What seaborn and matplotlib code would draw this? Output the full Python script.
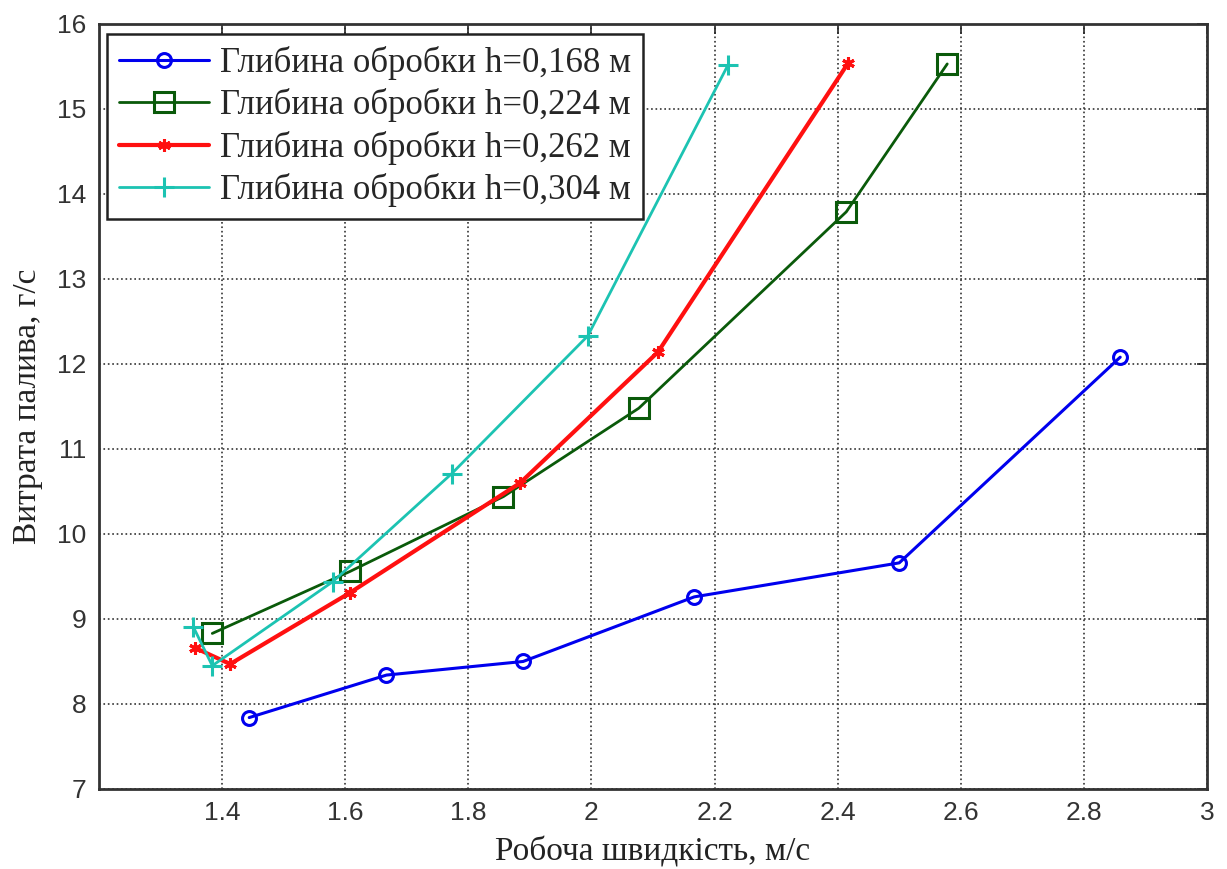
import numpy as np
import pandas as pd
import matplotlib
matplotlib.use('Agg')
import matplotlib.pyplot as plt
import seaborn as sns

# values
labels = ['Глибина обробки h=0,168 м', 'Глибина обробки h=0,224 м',
          'Глибина обробки h=0,262 м', 'Глибина обробки h=0,304 м']

x_168 = [1.444, 1.667, 1.889, 2.167, 2.500, 2.859]
y_168 = [7.84, 8.34, 8.50, 9.26, 9.66, 12.08]

x_224 = [1.384, 1.608, 1.857, 2.077, 2.414, 2.578]
y_224 = [8.83, 9.56, 10.44, 11.48, 13.79, 15.53]

x_262 = [1.356, 1.413, 1.608, 1.884, 2.108, 2.417]
y_262 = [8.66, 8.47, 9.31, 10.60, 12.14, 15.54]

x_304 = [1.353, 1.384, 1.580, 1.773, 1.994, 2.222]
y_304 = [8.91, 8.45, 9.44, 10.71, 12.33, 15.52]

x_ticks = [1.4, 1.6, 1.8, 2.0, 2.2, 2.4, 2.6, 2.8, 3.0]
x_ticklabels = ['1.4', '1.6', '1.8', '2', '2.2', '2.4', '2.6', '2.8', '3']
y_ticks = [7, 8, 9, 10, 11, 12, 13, 14, 15, 16]

sns.set_style('white')

fig = plt.figure(figsize=(12.27, 8.69), dpi=100)
ax = fig.add_axes([0.0807, 0.0921, 0.9030, 0.8803])

series = [
    (x_168, y_168, '#0000ee', 'o', 10, 2.2, 'none'),
    (x_224, y_224, '#0a5a0a', 's', 15, 2.0, 'none'),
    (x_262, y_262, '#ff1010', (6, 2, 0), 9, 3.0, '#ff1010'),
    (x_304, y_304, '#1cc3b2', '+', 15, 2.0, 'none'),
]
for (xs, ys, c, m, ms, lw, mfc), lab in zip(series, labels):
    df = pd.DataFrame({'x': xs, 'y': ys})
    sns.lineplot(data=df, x='x', y='y', ax=ax, sort=False, color=c,
                 marker=m, ms=ms, mfc=mfc, mec=c, mew=2.2, lw=lw,
                 label=lab, legend=False)

ax.set_xlim(1.2, 3.0)
ax.set_ylim(7, 16)
ax.set_xticks(x_ticks)
ax.set_xticklabels(x_ticklabels)
ax.set_yticks(y_ticks)

ax.grid(True, linestyle=':', color='#333333', linewidth=1.2)
ax.tick_params(direction='in', top=True, right=True, length=7, width=1.2,
               labelsize=19, labelcolor='#333333', pad=9,
               labelfontfamily='Liberation Sans')
for s in ax.spines.values():
    s.set_color('#333333')
    s.set_linewidth(2)

ax.set_xlabel('Робоча швидкість, м/с', fontfamily='Liberation Serif',
              fontsize=24, color='#222222', labelpad=8)
ax.set_ylabel('Витрата палива, г/с', fontfamily='Liberation Serif',
              fontsize=24, color='#222222', labelpad=10)

leg = ax.legend(loc='upper left', bbox_to_anchor=(0.007, 0.987),
                prop={'family': 'Liberation Serif', 'size': 25},
                handlelength=2.6, handletextpad=0.3, labelspacing=0.24,
                borderpad=0.35, borderaxespad=0, fancybox=False,
                frameon=True, framealpha=1)
leg.get_frame().set_edgecolor('#222222')
leg.get_frame().set_linewidth(1.8)

fig.savefig('out.png', dpi=100)
